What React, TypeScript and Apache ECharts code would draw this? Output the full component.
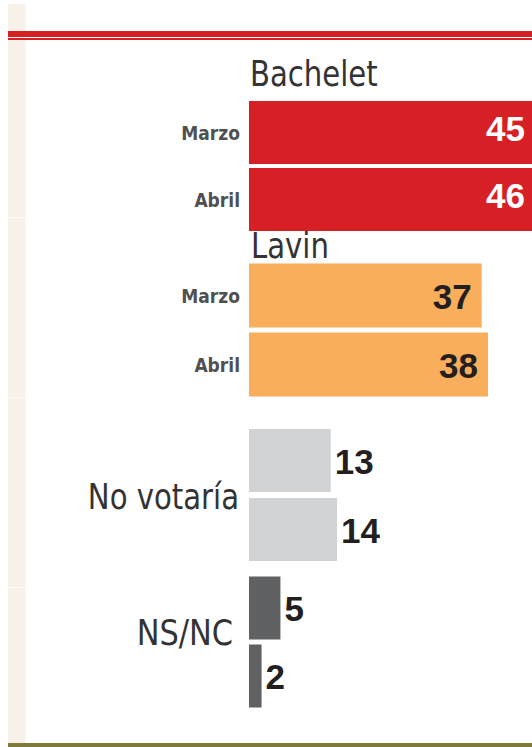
import React, { useEffect, useRef } from "react";
import * as echarts from "echarts";

const months = ["Marzo", "Abril"];
const groupNames = ["Bachelet", "Lavin", "No votaría", "NS/NC"];
const bachelet = [45, 46];
const lavin = [37, 38];
const noVotaria = [13, 14];
const nsnc = [5, 2];

const seriesValues = [bachelet, lavin, noVotaria, nsnc];
const colors = ["#d71f26", "#f8ae5b", "#d1d2d4", "#606163"];

const FONT = '"DejaVu Sans Condensed", "DejaVu Sans", sans-serif';
const NUM_FONT = '"Liberation Sans", Arial, sans-serif';

export default function App() {
  const ref = useRef<HTMLDivElement>(null);
  useEffect(() => {
    document.body.style.margin = "0";
    const chart = echarts.init(ref.current!, null, { renderer: "svg" });
    const grids = [
      { top: 99, height: 134, bar: 63 },
      { top: 261, height: 138, bar: 64 },
      { top: 426, height: 138, bar: 63 },
      { top: 574, height: 136, bar: 63 },
    ];
    const labelCfg = [
      { position: "insideRight", color: "#ffffff", distance: 7, offset: [0, -4] },
      { position: "insideRight", color: "#231f20", distance: 10, offset: [0, 1] },
      { position: "right", color: "#231f20", distance: 4, offset: [0, 1] },
      { position: "right", color: "#231f20", distance: 4, offset: [0, 0] },
    ];
    const groupText = (text: string, x: number, y: number, align: string, vAlign: string, sx: number) => ({
      type: "text",
      x,
      y,
      scaleX: sx,
      style: {
        text,
        fontFamily: FONT,
        fontSize: 36,
        fill: "#333333",
        align,
        verticalAlign: vAlign,
      },
    });
    const option: any = {
      animation: false,
      backgroundColor: "#ffffff",
      grid: grids.map((g) => ({ left: 249, right: 0, top: g.top, height: g.height })),
      xAxis: grids.map((_, i) => ({
        type: "value",
        gridIndex: i,
        min: 0,
        max: 45,
        show: false,
      })),
      yAxis: grids.map((_, i) => ({
        type: "category",
        gridIndex: i,
        data: months,
        inverse: true,
        axisLine: { show: false },
        axisTick: { show: false },
        splitLine: { show: false },
        axisLabel: {
          show: i < 2,
          margin: 9,
          fontFamily: FONT,
          fontSize: 19,
          fontWeight: "bold",
          color: "#505050",
          padding: i === 0 ? [0, 0, 8, 0] : [0, 0, 0, 0],
        },
      })),
      series: seriesValues.map((vals, i) => ({
        type: "bar",
        name: groupNames[i],
        xAxisIndex: i,
        yAxisIndex: i,
        data: vals,
        barWidth: grids[i].bar,
        itemStyle: { color: colors[i] },
        label: {
          show: true,
          position: labelCfg[i].position,
          distance: labelCfg[i].distance,
          offset: labelCfg[i].offset,
          color: labelCfg[i].color,
          fontFamily: NUM_FONT,
          fontSize: 35,
          fontWeight: "bold",
        },
      })),
      graphic: [
        { type: "rect", shape: { x: 8, y: 4, width: 17.5, height: 739 }, style: { fill: "#f8f1e9" }, silent: true },
        { type: "rect", shape: { x: 8, y: 217, width: 17.5, height: 1 }, style: { fill: "#fdf9f5" }, silent: true },
        { type: "rect", shape: { x: 8, y: 397, width: 17.5, height: 1 }, style: { fill: "#fdf9f5" }, silent: true },
        { type: "rect", shape: { x: 8, y: 587, width: 17.5, height: 1 }, style: { fill: "#fdf9f5" }, silent: true },
        { type: "rect", shape: { x: 8, y: 31, width: 524, height: 6 }, style: { fill: "#d71f26" } },
        { type: "rect", shape: { x: 8, y: 38, width: 524, height: 2 }, style: { fill: "#d71f26" } },
        { type: "rect", shape: { x: 8, y: 743, width: 524, height: 4 }, style: { fill: "#7f7a3b" } },
        groupText(groupNames[0], 250, 55, "left", "top", 0.9),
        groupText(groupNames[1], 251, 227, "left", "top", 0.9),
        groupText(groupNames[2], 239, 496, "right", "middle", 0.9),
        groupText(groupNames[3], 233, 633, "right", "middle", 0.94),
      ],
    };
    chart.setOption(option);
    return () => chart.dispose();
  }, []);
  return <div ref={ref} style={{ width: 532, height: 747 }} />;
}
